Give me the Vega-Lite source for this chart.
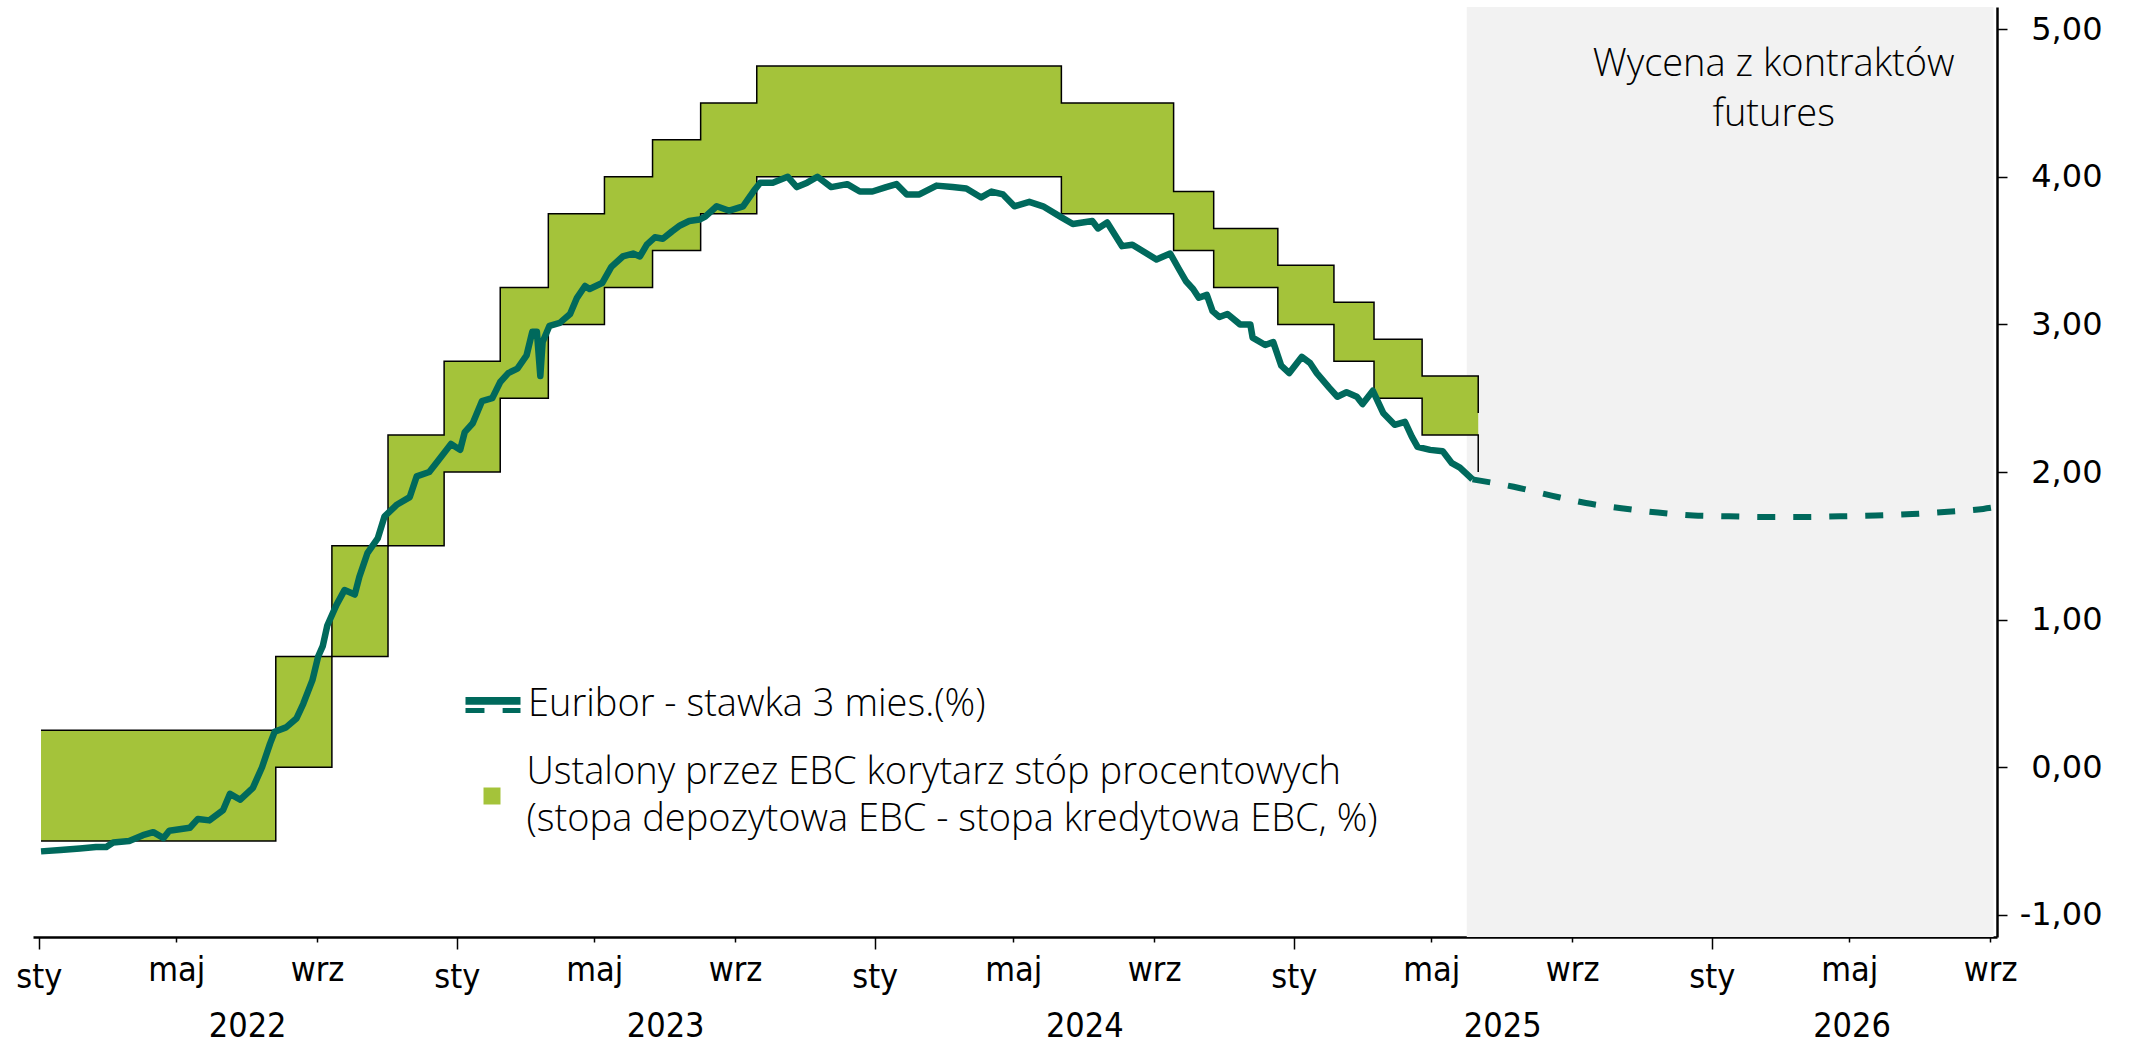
{
  "$schema": "https://vega.github.io/schema/vega-lite/v6.json",
  "width": 1964,
  "height": 930,
  "autosize": {"type": "none"},
  "padding": {"left": 33, "top": 7, "right": 135, "bottom": 110},
  "background": "white",
  "config": {"view": {"stroke": null}, "font": "Open Sans"},
  "datasets": {
    "shade": [{"start": "2025/06/01", "end": "2026/09/04"}],
    "note": [{"date": "2026/02/24", "value": 4.755, "label": "Wycena z kontraktów\nfutures"}],
    "ecb": [
      {"date": "2022/01/03", "dep": -0.50, "mlf": 0.25},
      {"date": "2022/07/27", "dep": 0.00, "mlf": 0.75},
      {"date": "2022/09/14", "dep": 0.75, "mlf": 1.50},
      {"date": "2022/11/02", "dep": 1.50, "mlf": 2.25},
      {"date": "2022/12/21", "dep": 2.00, "mlf": 2.75},
      {"date": "2023/02/08", "dep": 2.50, "mlf": 3.25},
      {"date": "2023/03/22", "dep": 3.00, "mlf": 3.75},
      {"date": "2023/05/10", "dep": 3.25, "mlf": 4.00},
      {"date": "2023/06/21", "dep": 3.50, "mlf": 4.25},
      {"date": "2023/08/02", "dep": 3.75, "mlf": 4.50},
      {"date": "2023/09/20", "dep": 4.00, "mlf": 4.75},
      {"date": "2024/06/12", "dep": 3.75, "mlf": 4.50},
      {"date": "2024/09/18", "dep": 3.50, "mlf": 3.90},
      {"date": "2024/10/23", "dep": 3.25, "mlf": 3.65},
      {"date": "2024/12/18", "dep": 3.00, "mlf": 3.40},
      {"date": "2025/02/05", "dep": 2.75, "mlf": 3.15},
      {"date": "2025/03/12", "dep": 2.50, "mlf": 2.90},
      {"date": "2025/04/23", "dep": 2.25, "mlf": 2.65},
      {"date": "2025/06/11", "dep": 2.00, "mlf": 2.40}
    ],
    "euribor": [
      {"date": "2022/01/03", "rate": -0.57},
      {"date": "2022/01/20", "rate": -0.56},
      {"date": "2022/02/06", "rate": -0.55},
      {"date": "2022/02/20", "rate": -0.54},
      {"date": "2022/03/01", "rate": -0.54},
      {"date": "2022/03/07", "rate": -0.51},
      {"date": "2022/03/21", "rate": -0.50},
      {"date": "2022/04/02", "rate": -0.46},
      {"date": "2022/04/11", "rate": -0.44},
      {"date": "2022/04/20", "rate": -0.48},
      {"date": "2022/04/25", "rate": -0.43},
      {"date": "2022/05/13", "rate": -0.41},
      {"date": "2022/05/20", "rate": -0.35},
      {"date": "2022/05/30", "rate": -0.36},
      {"date": "2022/06/11", "rate": -0.29},
      {"date": "2022/06/17", "rate": -0.18},
      {"date": "2022/06/26", "rate": -0.22},
      {"date": "2022/07/07", "rate": -0.14},
      {"date": "2022/07/15", "rate": 0.00},
      {"date": "2022/07/22", "rate": 0.16},
      {"date": "2022/07/26", "rate": 0.24},
      {"date": "2022/08/05", "rate": 0.27},
      {"date": "2022/08/14", "rate": 0.33},
      {"date": "2022/08/20", "rate": 0.43},
      {"date": "2022/08/28", "rate": 0.59},
      {"date": "2022/09/02", "rate": 0.75},
      {"date": "2022/09/06", "rate": 0.82},
      {"date": "2022/09/10", "rate": 0.96},
      {"date": "2022/09/18", "rate": 1.10},
      {"date": "2022/09/25", "rate": 1.20},
      {"date": "2022/10/04", "rate": 1.17},
      {"date": "2022/10/08", "rate": 1.29},
      {"date": "2022/10/15", "rate": 1.45},
      {"date": "2022/10/24", "rate": 1.55},
      {"date": "2022/10/30", "rate": 1.70},
      {"date": "2022/11/10", "rate": 1.78},
      {"date": "2022/11/21", "rate": 1.83},
      {"date": "2022/11/27", "rate": 1.97},
      {"date": "2022/12/08", "rate": 2.00},
      {"date": "2022/12/14", "rate": 2.06},
      {"date": "2022/12/27", "rate": 2.19},
      {"date": "2023/01/04", "rate": 2.15},
      {"date": "2023/01/08", "rate": 2.27},
      {"date": "2023/01/15", "rate": 2.33},
      {"date": "2023/01/23", "rate": 2.48},
      {"date": "2023/02/01", "rate": 2.50},
      {"date": "2023/02/08", "rate": 2.61},
      {"date": "2023/02/15", "rate": 2.67},
      {"date": "2023/02/23", "rate": 2.70},
      {"date": "2023/03/03", "rate": 2.79},
      {"date": "2023/03/08", "rate": 2.95},
      {"date": "2023/03/12", "rate": 2.95},
      {"date": "2023/03/15", "rate": 2.65},
      {"date": "2023/03/17", "rate": 2.88},
      {"date": "2023/03/23", "rate": 2.99},
      {"date": "2023/04/01", "rate": 3.01},
      {"date": "2023/04/10", "rate": 3.07},
      {"date": "2023/04/16", "rate": 3.18},
      {"date": "2023/04/23", "rate": 3.26},
      {"date": "2023/04/27", "rate": 3.24},
      {"date": "2023/05/08", "rate": 3.28},
      {"date": "2023/05/16", "rate": 3.39},
      {"date": "2023/05/26", "rate": 3.46},
      {"date": "2023/06/04", "rate": 3.48},
      {"date": "2023/06/10", "rate": 3.46},
      {"date": "2023/06/16", "rate": 3.54},
      {"date": "2023/06/23", "rate": 3.59},
      {"date": "2023/06/30", "rate": 3.58},
      {"date": "2023/07/08", "rate": 3.63},
      {"date": "2023/07/15", "rate": 3.67},
      {"date": "2023/07/23", "rate": 3.70},
      {"date": "2023/08/01", "rate": 3.71},
      {"date": "2023/08/06", "rate": 3.73},
      {"date": "2023/08/16", "rate": 3.80},
      {"date": "2023/08/27", "rate": 3.77},
      {"date": "2023/09/08", "rate": 3.80},
      {"date": "2023/09/17", "rate": 3.90},
      {"date": "2023/09/23", "rate": 3.96},
      {"date": "2023/10/04", "rate": 3.96},
      {"date": "2023/10/17", "rate": 4.00},
      {"date": "2023/10/25", "rate": 3.93},
      {"date": "2023/11/03", "rate": 3.96},
      {"date": "2023/11/12", "rate": 4.00},
      {"date": "2023/11/24", "rate": 3.93},
      {"date": "2023/12/08", "rate": 3.95},
      {"date": "2023/12/19", "rate": 3.90},
      {"date": "2023/12/30", "rate": 3.90},
      {"date": "2024/01/11", "rate": 3.93},
      {"date": "2024/01/20", "rate": 3.95},
      {"date": "2024/01/29", "rate": 3.88},
      {"date": "2024/02/09", "rate": 3.88},
      {"date": "2024/02/24", "rate": 3.94},
      {"date": "2024/03/09", "rate": 3.93},
      {"date": "2024/03/21", "rate": 3.92},
      {"date": "2024/04/03", "rate": 3.86},
      {"date": "2024/04/12", "rate": 3.90},
      {"date": "2024/04/22", "rate": 3.88},
      {"date": "2024/05/02", "rate": 3.80},
      {"date": "2024/05/15", "rate": 3.83},
      {"date": "2024/05/27", "rate": 3.80},
      {"date": "2024/06/11", "rate": 3.73},
      {"date": "2024/06/22", "rate": 3.68},
      {"date": "2024/07/09", "rate": 3.70},
      {"date": "2024/07/14", "rate": 3.65},
      {"date": "2024/07/22", "rate": 3.69},
      {"date": "2024/08/04", "rate": 3.53},
      {"date": "2024/08/13", "rate": 3.54},
      {"date": "2024/09/03", "rate": 3.44},
      {"date": "2024/09/15", "rate": 3.48},
      {"date": "2024/09/23", "rate": 3.37},
      {"date": "2024/09/29", "rate": 3.29},
      {"date": "2024/10/05", "rate": 3.24},
      {"date": "2024/10/10", "rate": 3.18},
      {"date": "2024/10/17", "rate": 3.20},
      {"date": "2024/10/22", "rate": 3.09},
      {"date": "2024/10/28", "rate": 3.05},
      {"date": "2024/11/04", "rate": 3.07},
      {"date": "2024/11/15", "rate": 3.00},
      {"date": "2024/11/24", "rate": 3.00},
      {"date": "2024/11/26", "rate": 2.91},
      {"date": "2024/12/07", "rate": 2.86},
      {"date": "2024/12/14", "rate": 2.88},
      {"date": "2024/12/21", "rate": 2.72},
      {"date": "2024/12/28", "rate": 2.67},
      {"date": "2025/01/08", "rate": 2.78},
      {"date": "2025/01/15", "rate": 2.74},
      {"date": "2025/01/21", "rate": 2.67},
      {"date": "2025/02/01", "rate": 2.57},
      {"date": "2025/02/08", "rate": 2.51},
      {"date": "2025/02/16", "rate": 2.54},
      {"date": "2025/02/25", "rate": 2.51},
      {"date": "2025/03/02", "rate": 2.46},
      {"date": "2025/03/11", "rate": 2.55},
      {"date": "2025/03/20", "rate": 2.40},
      {"date": "2025/03/30", "rate": 2.32},
      {"date": "2025/04/08", "rate": 2.34},
      {"date": "2025/04/14", "rate": 2.24},
      {"date": "2025/04/19", "rate": 2.17},
      {"date": "2025/04/30", "rate": 2.15},
      {"date": "2025/05/11", "rate": 2.14},
      {"date": "2025/05/19", "rate": 2.06},
      {"date": "2025/05/26", "rate": 2.03},
      {"date": "2025/06/06", "rate": 1.95}
    ],
    "futures": [
      {"date": "2025/06/06", "rate": 1.95},
      {"date": "2025/07/12", "rate": 1.90},
      {"date": "2025/08/14", "rate": 1.84},
      {"date": "2025/09/13", "rate": 1.79},
      {"date": "2025/10/14", "rate": 1.755},
      {"date": "2025/11/15", "rate": 1.725},
      {"date": "2025/12/16", "rate": 1.705},
      {"date": "2026/01/16", "rate": 1.70},
      {"date": "2026/02/18", "rate": 1.695},
      {"date": "2026/03/21", "rate": 1.695},
      {"date": "2026/04/23", "rate": 1.70},
      {"date": "2026/05/24", "rate": 1.705},
      {"date": "2026/06/25", "rate": 1.715},
      {"date": "2026/07/26", "rate": 1.73},
      {"date": "2026/08/26", "rate": 1.75},
      {"date": "2026/09/04", "rate": 1.76}
    ]
  },
  "layer": [
    {
      "data": {"name": "shade"},
      "mark": {"type": "rect", "color": "#f2f2f2"},
      "encoding": {
        "x": {
          "field": "start", "type": "temporal", "title": null,
          "scale": {"domain": [{"year": 2021, "month": 12, "date": 27}, {"year": 2026, "month": 9, "date": 7}]},
          "axis": {
            "title": null, "orient": "bottom", "grid": false,
            "values": [
              {"year": 2022, "month": 1, "date": 1}, {"year": 2022, "month": 5, "date": 1}, {"year": 2022, "month": 7, "date": 2}, {"year": 2022, "month": 9, "date": 1},
              {"year": 2023, "month": 1, "date": 1}, {"year": 2023, "month": 5, "date": 1}, {"year": 2023, "month": 7, "date": 2}, {"year": 2023, "month": 9, "date": 1},
              {"year": 2024, "month": 1, "date": 1}, {"year": 2024, "month": 5, "date": 1}, {"year": 2024, "month": 7, "date": 2}, {"year": 2024, "month": 9, "date": 1},
              {"year": 2025, "month": 1, "date": 1}, {"year": 2025, "month": 5, "date": 1}, {"year": 2025, "month": 7, "date": 2}, {"year": 2025, "month": 9, "date": 1},
              {"year": 2026, "month": 1, "date": 1}, {"year": 2026, "month": 5, "date": 1}, {"year": 2026, "month": 5, "date": 3}, {"year": 2026, "month": 9, "date": 1}
            ],
            "labelExpr": "date(datum.value) != 1 ? ['', timeFormat(datum.value, '%Y')] : month(datum.value) == 0 ? 'sty' : month(datum.value) == 4 ? 'maj' : 'wrz'",
            "labelFont": "Liberation Sans Narrow, DejaVu Sans Condensed, Roboto, sans-serif",
            "labelFontSize": 34,
            "labelColor": "black",
            "labelLineHeight": 56,
            "labelPadding": 11,
            "labelOverlap": false,
            "labelFlush": false,
            "labelBound": false,
            "domainColor": "black",
            "domainWidth": 2.5,
            "tickColor": "black",
            "tickWidth": 1.5,
            "tickSize": {"condition": {"test": "month(datum.value) == 0", "value": 12}, "value": 5},
            "tickOpacity": {"condition": {"test": "date(datum.value) != 1", "value": 0}, "value": 1}
          }
        },
        "x2": {"field": "end"}
      }
    },
    {
      "data": {"name": "ecb"},
      "mark": {"type": "area", "interpolate": "step-after"},
      "encoding": {
        "x": {"field": "date", "type": "temporal", "title": null},
        "y": {
          "field": "mlf", "type": "quantitative", "title": null,
          "scale": {"domain": [-1.15, 5.15], "nice": false, "zero": false},
          "axis": {
            "title": null, "orient": "right", "grid": false,
            "values": [-1, 0, 1, 2, 3, 4, 5],
            "labelExpr": "replace(replace(format(datum.value, '.2f'), '.', ','), '−', '-')",
            "labelFont": "DejaVu Sans",
            "labelFontSize": 32,
            "labelColor": "black",
            "labelAlign": "right",
            "labelBaseline": "middle",
            "labelPadding": 95,
            "labelFlush": false,
            "labelBound": false,
            "labelOverlap": false,
            "tickSize": 10,
            "tickColor": "black",
            "tickWidth": 1.5,
            "domainColor": "black",
            "domainWidth": 2.5
          }
        },
        "y2": {"field": "dep"},
        "fill": {
          "datum": "Ustalony przez EBC korytarz stóp procentowych|(stopa depozytowa EBC - stopa kredytowa EBC, %)",
          "scale": {"range": ["#a4c33a"]},
          "legend": {
            "title": null, "orient": "none", "legendX": 440, "legendY": 770, "padding": 0,
            "symbolType": "square", "symbolSize": 289, "symbolStrokeWidth": 0, "symbolOpacity": 1,
            "labelExpr": "split(datum.label, '|')",
            "labelFont": "Open Sans", "labelFontSize": 38, "labelFontWeight": 300, "labelColor": "black",
            "labelOffset": 15.5, "labelLimit": 0,
            "encode": {"labels": {"update": {"lineHeight": {"value": 47}, "dy": {"value": -23.5}}}}
          }
        }
      }
    },
    {
      "data": {"name": "ecb"},
      "mark": {"type": "line", "interpolate": "step-after", "color": "black", "strokeWidth": 1.5},
      "encoding": {
        "x": {"field": "date", "type": "temporal", "title": null},
        "y": {"field": "mlf", "type": "quantitative", "title": null}
      }
    },
    {
      "data": {"name": "ecb"},
      "mark": {"type": "line", "interpolate": "step-after", "color": "black", "strokeWidth": 1.5},
      "encoding": {
        "x": {"field": "date", "type": "temporal", "title": null},
        "y": {"field": "dep", "type": "quantitative", "title": null}
      }
    },
    {
      "data": {"name": "euribor"},
      "mark": {"type": "line", "strokeWidth": 6.5, "strokeJoin": "round"},
      "encoding": {
        "x": {"field": "date", "type": "temporal", "title": null},
        "y": {"field": "rate", "type": "quantitative", "title": null},
        "stroke": {
          "datum": "Euribor - stawka 3 mies.(%)",
          "scale": {"range": ["#00695c"]},
          "legend": {
            "title": null, "orient": "none", "legendX": 430, "legendY": 668, "padding": 0,
            "symbolType": "M-1,-0.2H1M-1,-0.1H1M-1,0.2H-0.31M0.35,0.2H1",
            "symbolSize": 3025, "symbolStrokeWidth": 5, "symbolOpacity": 1,
            "labelFont": "Open Sans", "labelFontSize": 38, "labelFontWeight": 300, "labelColor": "black",
            "labelOffset": 5, "labelLimit": 0
          }
        }
      }
    },
    {
      "data": {"name": "futures"},
      "mark": {"type": "line", "color": "#00695c", "strokeWidth": 6, "strokeDash": [18, 18], "interpolate": "monotone"},
      "encoding": {
        "x": {"field": "date", "type": "temporal", "title": null},
        "y": {"field": "rate", "type": "quantitative", "title": null}
      }
    },
    {
      "data": {"name": "note"},
      "mark": {"type": "text", "font": "Open Sans", "fontWeight": 300, "fontSize": 38, "lineBreak": "\n", "lineHeight": 50, "align": "center", "baseline": "middle", "color": "black"},
      "encoding": {
        "x": {"field": "date", "type": "temporal", "title": null},
        "y": {"field": "value", "type": "quantitative", "title": null},
        "text": {"field": "label"}
      }
    }
  ]
}
